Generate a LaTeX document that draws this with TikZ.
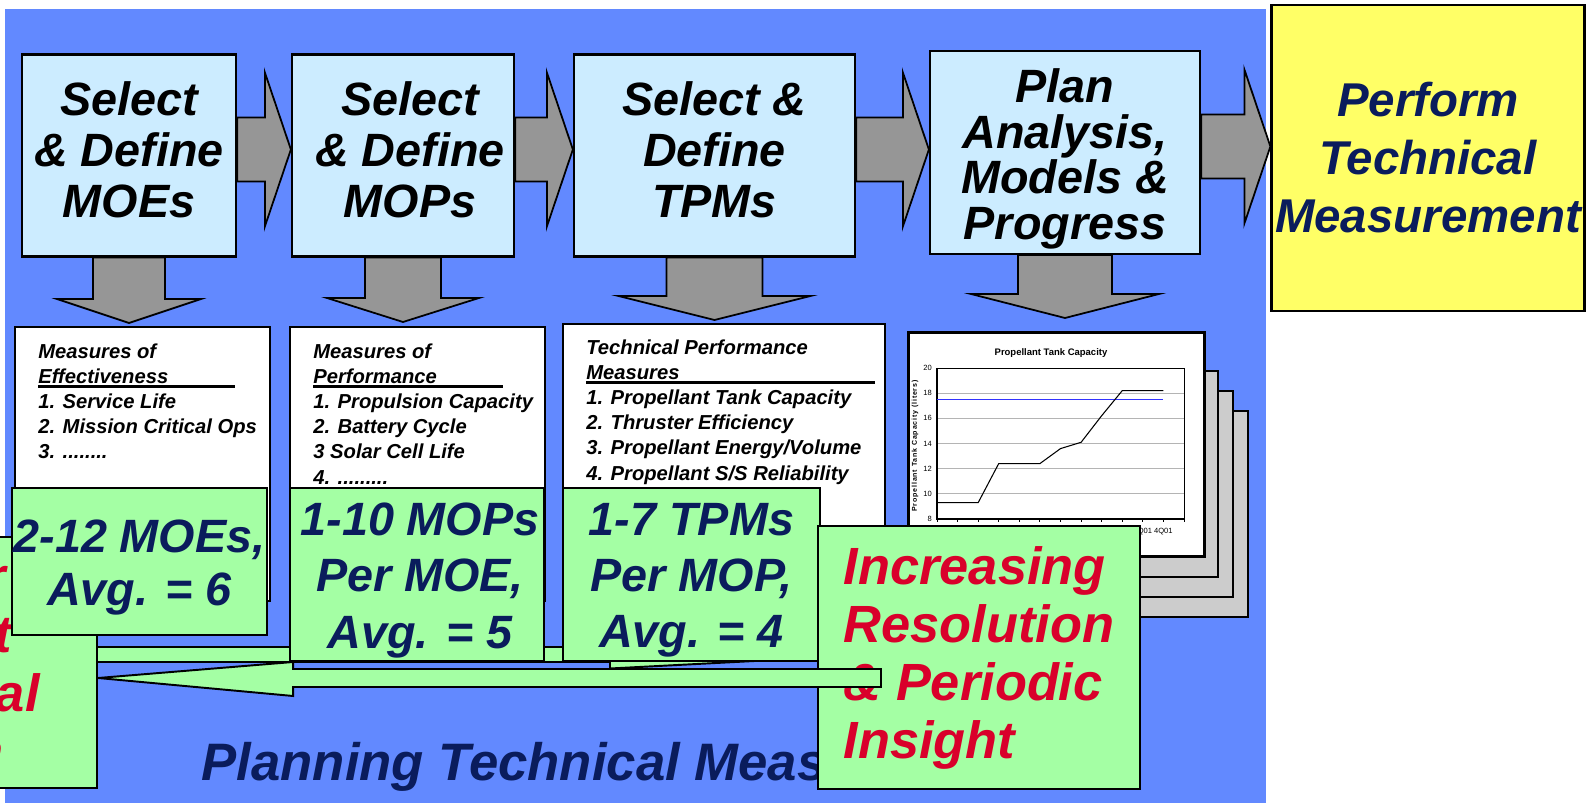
\documentclass[tikz,border=0pt]{standalone}
\usepackage{fontspec}
\setmainfont{Liberation Sans}
\usepackage{tikz}
\usetikzlibrary{calc}
\definecolor{SlideBlue}{HTML}{6289FF}
\definecolor{StepBlue}{HTML}{CCECFF}
\definecolor{ArrowGray}{HTML}{969696}
\definecolor{CountGreen}{HTML}{A4FFA4}
\definecolor{GoalYellow}{HTML}{FFFF66}
\definecolor{PageGray}{HTML}{CCCCCC}
\definecolor{GridGray}{HTML}{B4B4B4}
\definecolor{NavyText}{HTML}{0A1C5C}
\definecolor{AlertRed}{HTML}{D9002B}
\definecolor{TargetBlue}{HTML}{3333FF}
\newcommand{\hdr}[2]{\rlap{\rule[-2.4pt]{#1}{1.5pt}}#2}

\begin{document}
\begin{tikzpicture}[
  x={(0.02cm,0)},
  y={(0,-0.02cm)},
  stepbox/.style={
    draw=black,
    line width=1.3pt,
    fill=StepBlue,
    inner sep=0pt
  },
  steptext/.style={align=center,inner sep=0pt,
    font=\bfseries\itshape\fontsize{26.6}{29}\selectfont},
  goalbox/.style={stepbox,fill=GoalYellow,text=NavyText,align=center,
    font=\bfseries\itshape\fontsize{27}{33}\selectfont},
  listbox/.style={draw=black,line width=1.3pt,fill=white,inner sep=0pt},
  listtext/.style={anchor=north west,align=left,inner sep=0pt,
    font=\bfseries\itshape\fontsize{11.5}{14.3}\selectfont},
  countbox/.style={stepbox,fill=CountGreen},
  counttext/.style={steptext,text=NavyText,
    font=\bfseries\itshape\fontsize{26.6}{32}\selectfont},
  insightbox/.style={countbox,align=left,text=AlertRed,
    font=\bfseries\itshape\fontsize{29.8}{33}\selectfont},
  fragment/.style={anchor=base east,inner sep=0pt,text=AlertRed,
    font=\bfseries\itshape\fontsize{29.8}{33}\selectfont},
  blockarrow/.style={draw=black,line width=1pt,fill=ArrowGray},
  loopband/.style={draw=black,line width=1.1pt,fill=CountGreen},
  page/.style={draw=black,line width=1.5pt,fill=PageGray},
  gridline/.style={GridGray,line width=0.7pt},
  ticklabel/.style={inner sep=0.5pt,font=\fontsize{4.3}{4.3}\selectfont}
]
\useasboundingbox (0,0) rectangle (1593,803);
\fill[SlideBlue] (5,9) rectangle (1266,803);

% Top row: the planning steps and the goal.
\node[stepbox,minimum width=4.28cm,minimum height=4.04cm] (moe) at (129,155.5) {};
\node[stepbox,minimum width=4.44cm,minimum height=4.04cm] (mop) at (403,155.5) {};
\node[stepbox,minimum width=5.62cm,minimum height=4.04cm] (tpm) at (714.5,155.5) {};
\node[stepbox,minimum width=5.40cm,minimum height=4.06cm] (plan) at (1065,152.5) {};
\node[steptext] (moelabel) at ([yshift=0.12cm]moe.center)
  {Select\\\& Define\\MOEs};
\node[steptext] (moplabel) at ([xshift=0.14cm,yshift=0.12cm]mop.center)
  {Select\\\& Define\\MOPs};
\node[steptext] (tpmlabel) at ([yshift=0.12cm]tpm.center)
  {Select \&\\Define\\TPMs};
\node[steptext,font=\bfseries\itshape\fontsize{26.6}{26}\selectfont] (planlabel)
  at ([yshift=-0.13cm]plan.center) {Plan\\Analysis,\\Models \&\\Progress};
\node[goalbox,minimum width=6.26cm,minimum height=6.12cm] (perform) at (1428,158)
  {Perform\\Technical\\Measurement};

\foreach \a/\b in {moe/mop,mop/tpm,tpm/plan,plan/perform}{
  \coordinate (s) at ($(\a.east)+(0,-6)$);
  \coordinate (t) at (\b.west |- s);
  \draw[blockarrow] ($(s)+(0,-32)$) -- ($(t)+(-26,-32)$) -- ($(t)+(-26,-77)$)
    -- (t) -- ($(t)+(-26,77)$) -- ($(t)+(-26,32)$) -- ($(s)+(0,32)$) -- cycle;
}

% Lists of measures under the steps.
\node[listbox,minimum width=5.10cm,minimum height=5.48cm,anchor=north west]
  (moelist) at (14,326) {};
\node[listbox,minimum width=5.10cm,minimum height=5.48cm,anchor=north west]
  (moplist) at (289,326) {};
\node[listbox,minimum width=6.44cm,minimum height=4.74cm,anchor=north west]
  (tpmlist) at (562,323) {};
\node[listtext] (moetext) at ([xshift=0.48cm,yshift=-0.35cm]moelist.north west)
  {Measures of\\\hdr{112pt}{Effectiveness}\\1. Service Life\\
   2. Mission Critical Ops\\3. ........};
\node[listtext] (moptext) at ([xshift=0.48cm,yshift=-0.35cm]moplist.north west)
  {Measures of\\\hdr{107.7pt}{Performance}\\1. Propulsion Capacity\\
   2. Battery Cycle\\3 Solar Cell Life\\4. .........};
\node[listtext] (tpmtext) at ([xshift=0.48cm,yshift=-0.33cm]tpmlist.north west)
  {Technical Performance\\\hdr{164.4pt}{Measures}\\
   1. Propellant Tank Capacity\\2. Thruster Efficiency\\
   3. Propellant Energy/Volume\\4. Propellant S/S Reliability};

% Stack of chart pages.
\foreach \k in {3,2,1}
  \filldraw[page] ({907+15*\k},{351+20*\k}) rectangle ({1203+15*\k},{557+20*\k});
\node[page,fill=white,minimum width=5.92cm,minimum height=4.48cm,
  anchor=north west,inner sep=0pt] (chart) at (907,331) {};
\node[font=\bfseries\fontsize{5.4}{6}\selectfont] (charttitle) at (1051,353)
  {Propellant Tank Capacity};
\foreach \v in {10,12,...,18}
  \draw[gridline] (937,{519-(\v-8)*12.58}) -- (1184,{519-(\v-8)*12.58});
\draw[line width=0.4pt] (937,368) rectangle (1184,519);
\draw[line width=0.8pt] (937,368) -- (937,519) -- (1184,519);
\foreach \i in {0,...,12}
  \draw[line width=0.5pt] ({937+20.58*\i},519) -- ++(0,3);
\foreach \v in {8,10,...,20}
  \node[ticklabel,anchor=east] (ytick\v) at (933,{519-(\v-8)*12.58}) {\v};
\node[ticklabel] (xtickA) at (1142.8,532) {3Q01};
\node[ticklabel] (xtickB) at (1163.4,532) {4Q01};
\node[ticklabel,rotate=90,font=\bfseries\fontsize{4}{4}\selectfont
  \addfontfeature{LetterSpace=12}] (yaxis) at (915,446)
  {Propellant Tank Capacity (liters)};
\draw[TargetBlue,line width=0.8pt] (937,399.5) -- (1163.4,399.5);
\draw[line width=0.6pt] plot coordinates {(937,502.6) (957.6,502.6)
  (978.2,502.6) (998.7,463.6) (1019.3,463.6) (1039.9,463.6) (1060.5,448.6)
  (1081.1,442.3) (1101.6,415.8) (1122.2,390.7) (1142.8,390.7) (1163.4,390.7)};

\foreach \b/\l/\w/\g in {moe/moelist/36/3,mop/moplist/38/4,tpm/tpmlist/48/3,
  plan/chart/47/13}{
  \coordinate (s) at (\b.south);
  \coordinate (u) at ($(\l.north -| s)+(0,-\g)$);
  \draw[blockarrow] ($(s)+(-\w,0)$) -- ($(u)+(-\w,-24)$) -- ($(u)+(-2*\w,-24)$)
    -- (u) -- ($(u)+(2*\w,-24)$) -- ($(u)+(\w,-24)$) -- ($(s)+(\w,0)$) -- cycle;
}

% Loop out to the insight box.
\coordinate (fwdtip) at (880,654.5);
\coordinate (trendmid) at (18.5,662.5);
\draw[loopband] ($(trendmid |- fwdtip)+(0,-7.5)$) -- ($(fwdtip)+(-270,-7.5)$)
  -- ($(fwdtip)+(-270,-14)$) -- (fwdtip) -- ($(fwdtip)+(-270,14)$)
  -- ($(fwdtip)+(-270,7.5)$) -- ($(trendmid |- fwdtip)+(0,7.5)$) -- cycle;
\node[countbox,minimum width=3.14cm,minimum height=5.02cm] (trend) at (trendmid) {};
\foreach \t/\x/\y [count=\k] in {r/6/595,t/12/653,al/40/711,n/4/769}
  \node[fragment] (trend\k) at (\x,\y) {\t};

% Counts per level.
\node[countbox,minimum width=5.10cm,minimum height=2.94cm] (moecount)
  at (139.5,561.5) {};
\node[countbox,minimum width=5.08cm,minimum height=3.46cm] (mopcount)
  at (417,574.5) {};
\node[countbox,minimum width=5.14cm,minimum height=3.46cm] (tpmcount)
  at (691.5,574.5) {};
\node[counttext,font=\bfseries\itshape\fontsize{26.6}{30.6}\selectfont]
  (moecounttext) at ([yshift=-0.12cm]moecount.center) {2-12 MOEs,\\Avg. = 6};
\node[counttext] (mopcounttext) at ([xshift=0.06cm,yshift=-0.12cm]mopcount.center)
  {1-10 MOPs\\Per MOE,\\Avg. = 5};
\node[counttext] (tpmcounttext) at ([yshift=-0.12cm]tpmcount.center)
  {1-7 TPMs\\Per MOP,\\Avg. = 4};

\node[font=\bfseries\itshape\fontsize{30}{30}\selectfont,text=NavyText] (caption)
  at (618,767) {Planning Technical Measurement};

\node[insightbox,minimum width=6.44cm,minimum height=5.26cm] (insight) at (979,657.5)
  {Increasing\\Resolution\\\& Periodic\\Insight};

% Loop back to the left.
\coordinate (backtail) at (881,678);
\coordinate (b) at (trend.east |- backtail);
\draw[loopband] ($(backtail)+(0,-9)$) -- ($(b)+(195,-9)$) -- ($(b)+(195,-16)$)
  -- (b) -- ($(b)+(195,18)$) -- ($(b)+(195,9)$) -- ($(backtail)+(0,9)$) -- cycle;
\end{tikzpicture}
\end{document}
